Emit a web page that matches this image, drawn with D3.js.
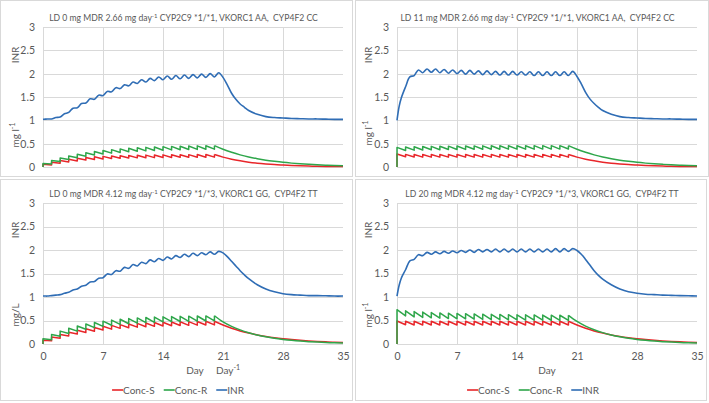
<!DOCTYPE html>
<html><head><meta charset="utf-8">
<script src="https://cdn.jsdelivr.net/npm/d3@7"></script>
<style>
body{margin:0;background:#fff;}
svg{display:block;}
text{white-space:pre;}
</style></head><body>
<svg id="chart" width="709" height="403"></svg>
<script>
// ---------------- DATA ----------------
const xTicks = [0, 7, 14, 21, 28, 35];
const yTicks = [0, 0.5, 1, 1.5, 2, 2.5, 3];
const seriesNames = ["Conc-S", "Conc-R", "INR"];

const titleMain = [
  "LD 0 mg MDR 2.66 mg day",
  "LD 11 mg MDR 2.66 mg day",
  "LD 0 mg MDR 4.12 mg day",
  "LD 20 mg MDR 4.12 mg day"
];
const titleRest = [
  " CYP2C9 *1/*1, VKORC1 AA,  CYP4F2 CC",
  " CYP2C9 *1/*1, VKORC1 AA,  CYP4F2 CC",
  " CYP2C9 *1/*3, VKORC1 GG,  CYP4F2 TT",
  " CYP2C9 *1/*3, VKORC1 GG,  CYP4F2 TT"
];
const concLabels = ["mg l", "mg l", "mg/L", "mg l"];

const doseDays = [0,1,2,3,4,5,6,7,8,9,10,11,12,13,14,15,16,17,18,19,20];
const tailDays = [21,22,23,24,25,26,27,28,29,30,31,32,33,34,35];
const inrDays = [0,0.25,0.5,1,1.5,2,2.5,3,3.5,4,4.5,5,5.5,6,6.5,7,7.5,8,8.5,9,9.5,10,10.5,11,11.5,12,12.5,13,13.5,14,14.5,15,15.5,16,16.5,17,17.5,18,18.5,19,19.5,20,20.5,21,21.5,22,22.5,23,23.5,24,25,26,27,28,29,30,31,32,33,34,35];

// Panel 1: LD 0, MDR 2.66
const p1SPeak   = [.057,.101,.137,.165,.187,.204,.218,.228,.236,.243,.248,.252,.255,.257,.260,.262,.264,.265,.266,.267,.268];
const p1STrough = [0,.045,.080,.108,.130,.148,.161,.172,.180,.186,.192,.196,.199,.201,.203,.205,.207,.209,.209,.210,.211];
const p1STail   = [.212,.167,.132,.104,.082,.065,.051,.041,.032,.025,.020,.016,.013,.011,.010];
const p1RPeak   = [.075,.138,.191,.236,.273,.305,.331,.353,.372,.388,.401,.412,.421,.429,.436,.441,.446,.450,.453,.456,.458];
const p1RTrough = [0,.063,.116,.160,.198,.229,.256,.278,.297,.312,.326,.337,.346,.354,.360,.366,.370,.375,.378,.381,.383];
const p1RTail   = [.38,.315,.26,.215,.178,.147,.122,.10,.083,.069,.057,.047,.039,.032,.027];
const p1INR = [1.02,1.025,1.03,1.03,1.06,1.07,1.14,1.17,1.26,1.27,1.36,1.37,1.46,1.45,1.54,1.53,1.62,1.61,1.70,1.68,1.76,1.74,1.82,1.79,1.87,1.82,1.90,1.85,1.93,1.87,1.95,1.88,1.96,1.89,1.97,1.90,1.98,1.91,1.99,1.92,2.00,1.93,2.02,1.92,1.76,1.58,1.45,1.35,1.28,1.21,1.13,1.08,1.06,1.05,1.04,1.035,1.03,1.03,1.025,1.02,1.02];

// Panel 2: LD 11, MDR 2.66
const p2SPeak   = [.28,.27,.268,.267,.267,.267,.267,.267,.267,.267,.267,.267,.267,.267,.267,.267,.268,.268,.268,.268,.268];
const p2STrough = [0,.221,.213,.212,.211,.211,.211,.211,.211,.211,.211,.211,.211,.211,.211,.211,.211,.211,.211,.211,.211];
const p2STail   = [.212,.167,.132,.104,.082,.065,.051,.041,.032,.025,.020,.016,.013,.011,.010];
const p2RPeak   = [.42,.43,.435,.44,.442,.445,.447,.449,.451,.452,.453,.454,.455,.455,.456,.456,.457,.457,.457,.458,.458];
const p2RTrough = [0,.353,.361,.365,.370,.371,.374,.375,.377,.379,.380,.380,.381,.382,.382,.383,.383,.384,.384,.384,.385];
const p2RTail   = [.38,.315,.26,.215,.178,.147,.122,.10,.083,.069,.057,.047,.039,.032,.027];
const p2INR = [1.0,1.3,1.48,1.72,1.93,1.96,2.08,2.02,2.10,2.03,2.10,2.02,2.09,2.01,2.08,2.00,2.07,1.99,2.07,1.99,2.06,1.98,2.06,1.98,2.05,1.97,2.05,1.97,2.05,1.97,2.04,1.97,2.04,1.96,2.04,1.96,2.04,1.96,2.04,1.96,2.04,1.96,2.05,1.94,1.78,1.60,1.46,1.36,1.28,1.21,1.13,1.08,1.06,1.05,1.04,1.035,1.03,1.03,1.025,1.02,1.02];

// Panel 3: LD 0, MDR 4.12
const p3SPeak   = [.080,.147,.203,.251,.291,.324,.352,.376,.396,.413,.427,.438,.448,.456,.463,.468,.473,.477,.480,.483,.485];
const p3STrough = [0,.067,.123,.171,.211,.244,.272,.296,.316,.333,.347,.359,.368,.376,.383,.389,.393,.397,.401,.403,.406];
const p3STail   = [.405,.335,.278,.232,.193,.161,.134,.112,.094,.078,.065,.055,.046,.038,.032];
const p3RPeak   = [.110,.200,.274,.334,.384,.425,.458,.486,.508,.526,.541,.554,.564,.572,.579,.584,.589,.593,.596,.598,.601];
const p3RTrough = [0,.090,.164,.225,.274,.315,.349,.376,.399,.417,.431,.444,.454,.462,.469,.475,.479,.483,.486,.489,.490];
const p3RTail   = [.47,.375,.30,.24,.192,.153,.122,.098,.078,.062,.05,.04,.032,.026,.021];
const p3INR = [1.02,1.02,1.02,1.03,1.04,1.05,1.08,1.10,1.15,1.17,1.23,1.25,1.32,1.33,1.40,1.41,1.49,1.48,1.56,1.55,1.63,1.61,1.69,1.66,1.74,1.71,1.79,1.75,1.82,1.78,1.85,1.81,1.88,1.84,1.91,1.86,1.93,1.88,1.94,1.90,1.96,1.91,1.97,1.94,1.86,1.76,1.66,1.56,1.47,1.39,1.26,1.17,1.11,1.07,1.05,1.04,1.03,1.03,1.025,1.02,1.02];

// Panel 4: LD 20, MDR 4.12
const p4SPeak   = [.49,.485,.485,.485,.485,.485,.485,.485,.485,.485,.485,.485,.485,.485,.485,.485,.485,.485,.485,.485,.485];
const p4STrough = [0,.41,.405,.405,.405,.405,.405,.405,.405,.405,.405,.405,.405,.405,.405,.405,.405,.405,.405,.405,.405];
const p4STail   = [.405,.335,.278,.232,.193,.161,.134,.112,.094,.078,.065,.055,.046,.038,.032];
const p4RPeak   = [.73,.705,.69,.68,.67,.66,.655,.65,.645,.64,.635,.632,.628,.625,.622,.62,.618,.616,.614,.612,.61];
const p4RTrough = [0,.599,.578,.566,.558,.549,.541,.537,.533,.529,.525,.521,.518,.515,.513,.510,.508,.507,.505,.503,.502];
const p4RTail   = [.48,.38,.303,.242,.193,.154,.123,.098,.078,.062,.05,.04,.032,.026,.021];
const p4INR = [1.02,1.25,1.40,1.58,1.77,1.80,1.90,1.88,1.95,1.91,1.96,1.92,1.97,1.93,1.98,1.94,1.99,1.95,2.00,1.95,2.01,1.96,2.01,1.96,2.02,1.96,2.02,1.96,2.02,1.96,2.02,1.96,2.02,1.96,2.02,1.96,2.02,1.96,2.03,1.96,2.03,1.97,2.03,1.99,1.91,1.80,1.68,1.56,1.46,1.38,1.26,1.17,1.11,1.08,1.06,1.05,1.04,1.035,1.03,1.025,1.02];

// ---------------- LAYOUT ----------------
const FONT = "Lato, 'Open Sans', sans-serif";
const TXT = "#595959";
const GRID = "#d9d9d9";
const COLORS = ["#e8262a", "#2ea64a", "#2f6db5"];

const panels = [
  {box:[0.5,0.5,352,176], plot:[43,27,300,140], tx:183.5, ty:21, tw:269, lx:15, inrY:55, concY:135, xaxis:false,
   S:[p1SPeak,p1STrough,p1STail], R:[p1RPeak,p1RTrough,p1RTail], INR:p1INR},
  {box:[355.5,0.5,353,176], plot:[397,27,300,140], tx:537.5, ty:21, tw:275, lx:368, inrY:55, concY:133, xaxis:false,
   S:[p2SPeak,p2STrough,p2STail], R:[p2RPeak,p2RTrough,p2RTail], INR:p2INR},
  {box:[0.5,179.5,352,221], plot:[43,203,300,141], tx:183.5, ty:197, tw:269, lx:15, inrY:230, concY:315, xaxis:true,
   dayX:195, dayInvX:228, legendX:178,
   S:[p3SPeak,p3STrough,p3STail], R:[p3RPeak,p3RTrough,p3RTail], INR:p3INR},
  {box:[355.5,179.5,351,221], plot:[397,203,300,141], tx:542, ty:197, tw:274, lx:368, inrY:230, concY:315, xaxis:true,
   dayX:547, legendX:533,
   S:[p4SPeak,p4STrough,p4STail], R:[p4RPeak,p4RTrough,p4RTail], INR:p4INR}
];

const svg = d3.select("#chart").style("font-family", FONT);

panels.forEach((p, pi) => {
  const [bx, by, bw, bh] = p.box;
  svg.append("rect").attr("x", bx).attr("y", by).attr("width", bw).attr("height", bh)
    .attr("fill", "#fff").attr("stroke", "#d9d9d9").attr("stroke-width", 1);

  const [px, py, pw, ph] = p.plot;
  const x = d3.scaleLinear().domain([0, 35]).range([px, px + pw]);
  const y = d3.scaleLinear().domain([0, 3]).range([py + ph, py]);
  const g = svg.append("g");

  // gridlines
  g.selectAll(".hg").data(yTicks).join("line")
    .attr("x1", px).attr("x2", px + pw)
    .attr("y1", d => Math.round(y(d)) + 0.5).attr("y2", d => Math.round(y(d)) + 0.5)
    .attr("stroke", GRID).attr("stroke-width", 1);
  g.selectAll(".vg").data(xTicks.slice(0, 5)).join("line")
    .attr("x1", d => Math.round(x(d)) + 0.5).attr("x2", d => Math.round(x(d)) + 0.5)
    .attr("y1", py).attr("y2", py + ph)
    .attr("stroke", GRID).attr("stroke-width", 1);

  // y axis labels
  const ya = d3.axisLeft(y).tickValues(yTicks).tickSize(0).tickPadding(8).tickFormat(d3.format("~g"));
  const yg = svg.append("g").attr("transform", `translate(${px},0)`).call(ya);
  yg.select(".domain").remove();
  yg.selectAll("text").attr("fill", TXT).style("font-size", "10.5px").style("font-family", FONT);

  if (p.xaxis) {
    const xa = d3.axisBottom(x).tickValues(xTicks).tickSize(0).tickPadding(9);
    const xg = svg.append("g").attr("transform", `translate(0,${py + ph})`).call(xa);
    xg.select(".domain").remove();
    xg.selectAll("text").attr("fill", TXT).style("font-size", "10.5px").style("font-family", FONT);
  }

  // title
  const t = svg.append("text").attr("x", p.tx).attr("y", p.ty).attr("text-anchor", "middle")
    .attr("fill", TXT);
  const m1 = t.append("tspan").text(titleMain[pi]);
  const sup = t.append("tspan").attr("dy", -3.5).text("-1");
  const m2 = t.append("tspan").attr("dy", 3.5).text(titleRest[pi]);
  let fs = 9.5;
  function setFs(f) { m1.style("font-size", f + "px"); m2.style("font-size", f + "px"); sup.style("font-size", (f * 0.7) + "px"); }
  setFs(fs);
  const len = t.node().getComputedTextLength();
  fs = fs * p.tw / len;
  setFs(fs);

  // y-axis titles
  svg.append("text").attr("transform", `translate(${p.lx + 3.5},${p.inrY}) rotate(-90)`)
    .attr("text-anchor", "middle").attr("fill", TXT).style("font-size", "10px").text("INR");
  const ct = svg.append("text").attr("transform", `translate(${p.lx + 3.5},${p.concY}) rotate(-90)`)
    .attr("text-anchor", "middle").attr("fill", TXT).style("font-size", "10px");
  ct.append("tspan").text(concLabels[pi]);
  if (concLabels[pi] !== "mg/L") {
    ct.append("tspan").attr("dy", -3.5).style("font-size", "7px").text("-1");
  }

  // x-axis titles
  if (p.xaxis) {
    svg.append("text").attr("x", p.dayX).attr("y", 373.5).attr("text-anchor", "middle")
      .attr("fill", TXT).style("font-size", "10px").text("Day");
    if (p.dayInvX) {
      const dt = svg.append("text").attr("x", p.dayInvX).attr("y", 373.5).attr("text-anchor", "middle")
        .attr("fill", TXT).style("font-size", "10px");
      dt.append("tspan").text("Day");
      dt.append("tspan").attr("dy", -3.5).style("font-size", "7px").text("-1");
    }
  }

  // series
  const lineLin = d3.line().x(d => x(d[0])).y(d => y(d[1]));
  const lineCurve = d3.line().x(d => x(d[0])).y(d => y(d[1])).curve(d3.curveMonotoneX);
  const lineSmooth = d3.line().x(d => x(d[0])).y(d => y(d[1])).curve(d3.curveCatmullRom.alpha(0.5));

  [p.S, p.R].forEach((s, si) => {
    const [peaks, troughs, tail] = s;
    const saw = [];
    doseDays.forEach((d, i) => { saw.push([d, troughs[i]]); saw.push([d, peaks[i]]); });
    const tl = [[doseDays[doseDays.length - 1], peaks[peaks.length - 1]]].concat(tailDays.map((d, i) => [d, tail[i]]));
    g.append("path").attr("d", lineLin(saw)).attr("fill", "none").attr("stroke", COLORS[si])
      .attr("stroke-width", 1.5).attr("stroke-linejoin", "round");
    g.append("path").attr("d", lineCurve(tl)).attr("fill", "none").attr("stroke", COLORS[si])
      .attr("stroke-width", 1.5);
  });
  g.append("path").attr("d", lineSmooth(inrDays.map((d, i) => [d, p.INR[i]])))
    .attr("fill", "none").attr("stroke", COLORS[2]).attr("stroke-width", 1.6);

  // legend
  if (p.xaxis) {
    const lg = svg.append("g");
    let cx = 0;
    seriesNames.forEach((n, i) => {
      const it = lg.append("g");
      it.append("line").attr("x1", 0).attr("x2", 11).attr("y1", 0).attr("y2", 0)
        .attr("stroke", COLORS[i]).attr("stroke-width", 1.6);
      const tt = it.append("text").attr("x", 11).attr("y", 3.5).attr("fill", TXT)
        .style("font-size", "10px").text(n);
      const w = 11 + tt.node().getComputedTextLength();
      it.attr("transform", `translate(${cx},390)`);
      cx += w + 9;
    });
    const total = cx - 9;
    lg.attr("transform", `translate(${p.legendX - total / 2},0)`);
  }
});
</script>
</body></html>
